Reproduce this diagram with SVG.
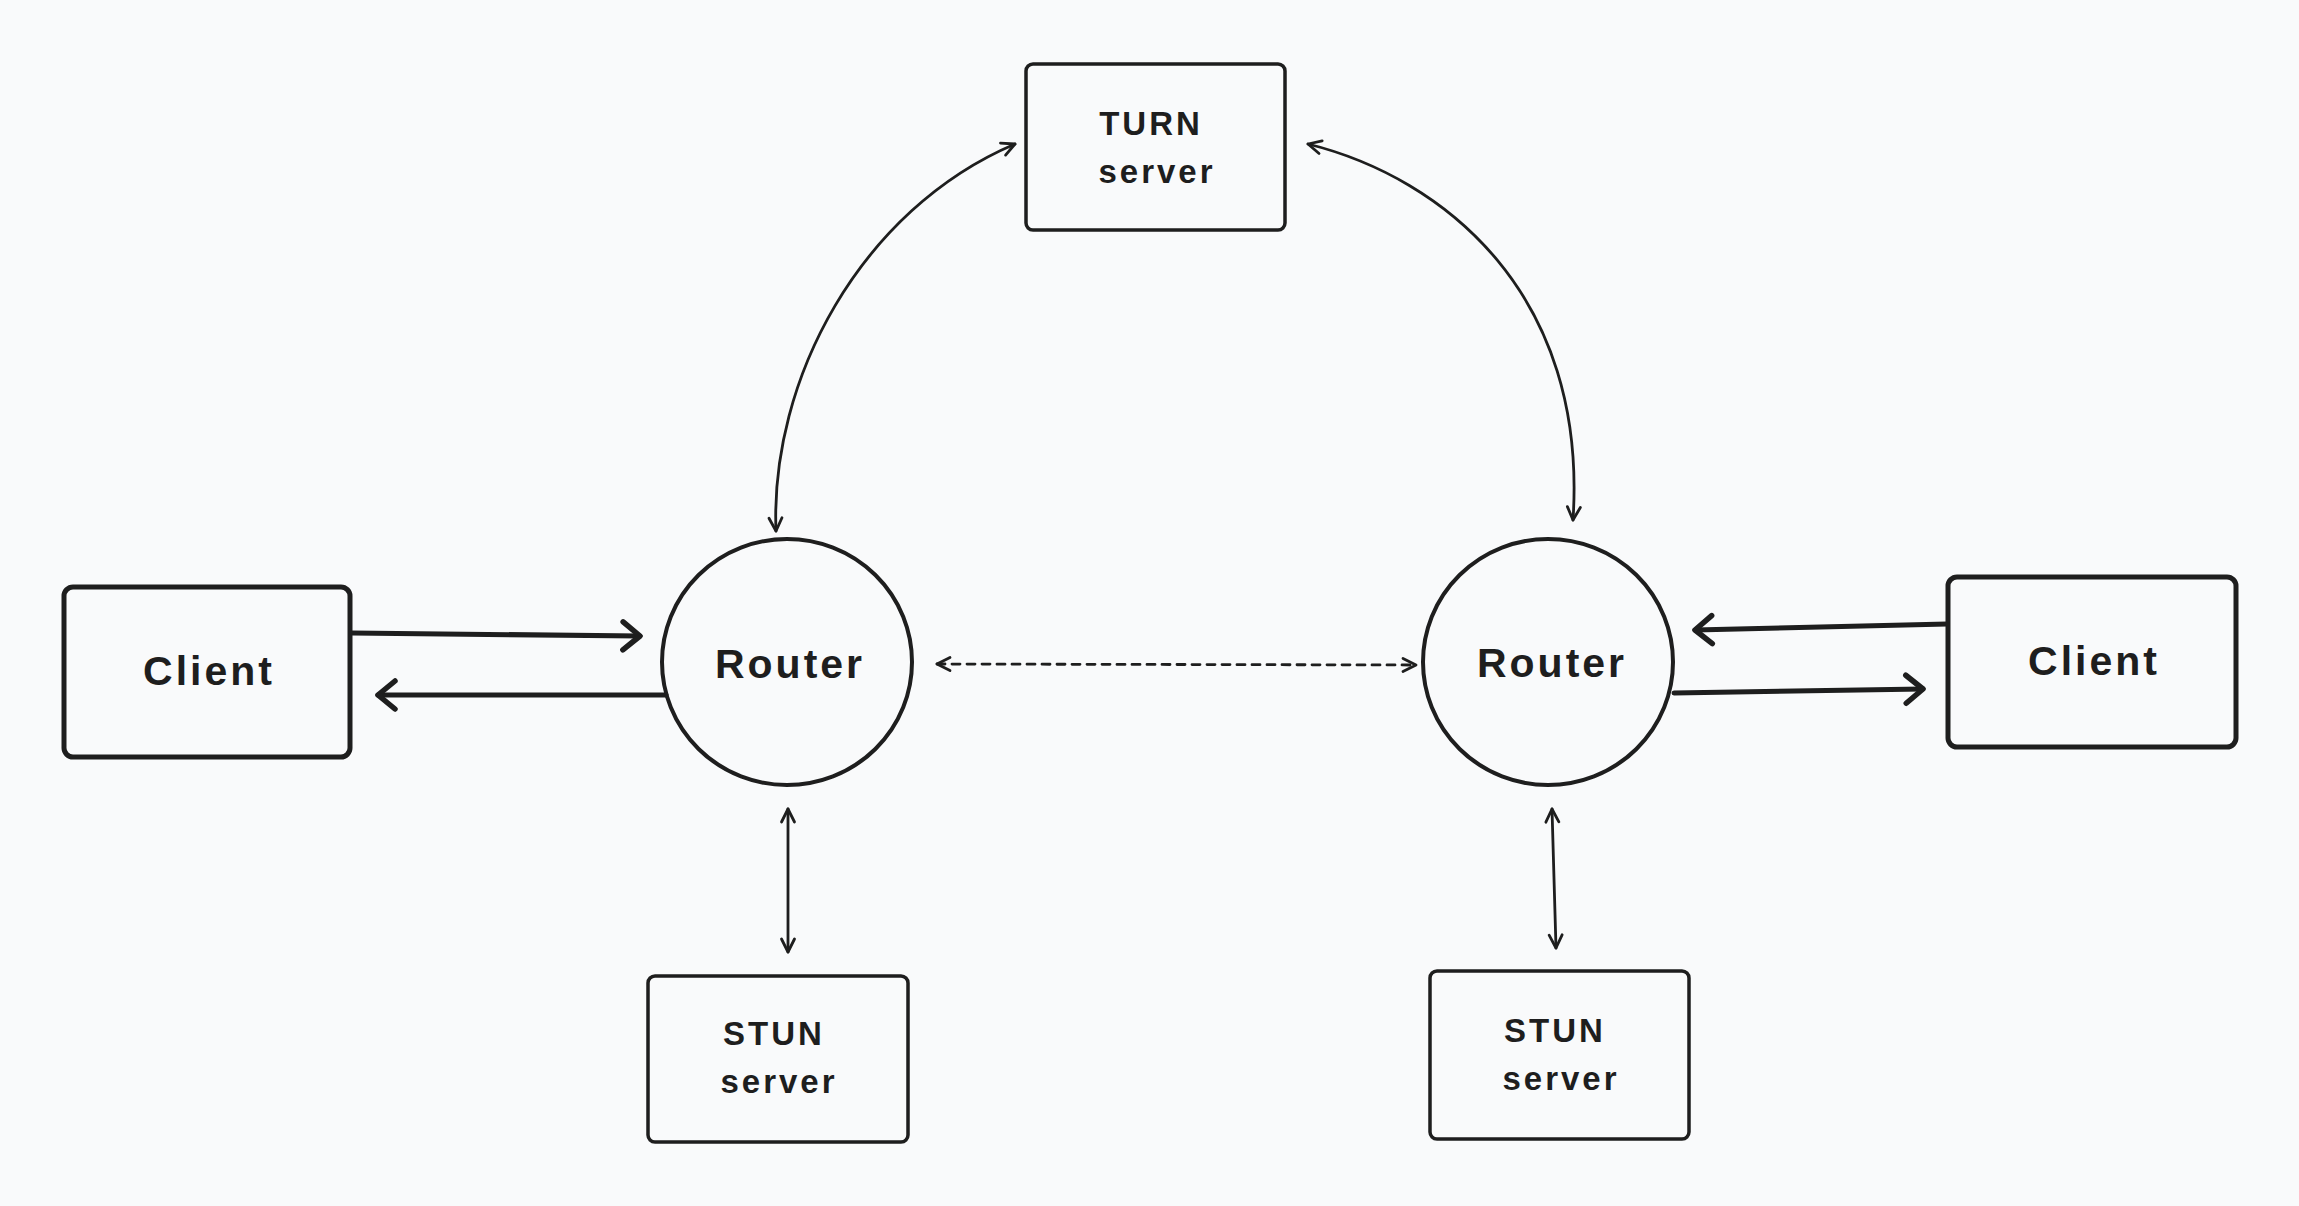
<svg xmlns="http://www.w3.org/2000/svg" width="2299" height="1206" viewBox="0 0 2299 1206">
<style>
.box{fill:none;stroke:#1e1e1e;stroke-linejoin:round}
.client{stroke-width:5}
.srv{stroke-width:3.5}
.router{fill:none;stroke:#1e1e1e;stroke-width:4}
.lbl{font-family:"Liberation Sans","DejaVu Sans",sans-serif;font-weight:bold;fill:#1e1e1e;text-anchor:middle}
.big{font-size:41px;letter-spacing:3px}
.small{font-size:33px;letter-spacing:3px}
.thick{fill:none;stroke:#1e1e1e;stroke-width:5;stroke-linecap:round;marker-end:url(#hb)}
.thin{fill:none;stroke:#1e1e1e;stroke-width:2.8;stroke-linecap:round;marker-start:url(#hs);marker-end:url(#hs)}
.dash{stroke-dasharray:8 7}
</style>
<defs>
<marker id="hb" viewBox="-30 -20 40 40" refX="0" refY="0" markerWidth="40" markerHeight="40" markerUnits="userSpaceOnUse" orient="auto" overflow="visible">
<path d="M -17 -14 L 0 0 L -17 14" fill="none" stroke="#1e1e1e" stroke-width="5.5" stroke-linecap="round" stroke-linejoin="round"/>
</marker>
<marker id="hs" viewBox="-20 -20 40 40" refX="0" refY="0" markerWidth="40" markerHeight="40" markerUnits="userSpaceOnUse" orient="auto-start-reverse" overflow="visible">
<path d="M -13 -6.5 L 0 0 L -13 6.5" fill="none" stroke="#1e1e1e" stroke-width="2.8" stroke-linecap="round" stroke-linejoin="round" stroke-dasharray="none"/>
</marker>
</defs>
<rect x="0" y="0" width="2299" height="1206" fill="#f9fafb"/>

<g id="connectors">
<path class="thick" d="M 352 633 L 640 636"/>
<path class="thick" d="M 666 695 L 378 695"/>
<path class="thick" d="M 1947 624 L 1695 630"/>
<path class="thick" d="M 1674 693 L 1923 689"/>
<path class="thin dash" d="M 937 664 L 1416 665"/>
<path class="thin" d="M 776 531 C 770 380, 860 210, 1015 144"/>
<path class="thin" d="M 1308 144 C 1445 178, 1588 295, 1573 520"/>
<path class="thin" d="M 788 809 L 788 952"/>
<path class="thin" d="M 1552 809 L 1556 948"/>
</g>

<g id="client-left">
<rect class="box client" x="64" y="587" width="286" height="170" rx="9"/>
<text class="lbl big" x="209" y="685">Client</text>
</g>
<g id="router-left">
<ellipse class="router" cx="787" cy="662" rx="125" ry="123"/>
<text class="lbl big" x="790" y="678">Router</text>
</g>
<g id="router-right">
<ellipse class="router" cx="1548" cy="662" rx="125" ry="123"/>
<text class="lbl big" x="1552" y="677">Router</text>
</g>
<g id="client-right">
<rect class="box client" x="1948" y="577" width="288" height="170" rx="9"/>
<text class="lbl big" x="2094" y="675">Client</text>
</g>
<g id="turn-server">
<rect class="box srv" x="1026" y="64" width="259" height="166" rx="7"/>
<text class="lbl small" x="1151" y="135">TURN</text>
<text class="lbl small" x="1157" y="183">server</text>
</g>
<g id="stun-left">
<rect class="box srv" x="648" y="976" width="260" height="166" rx="7"/>
<text class="lbl small" x="774" y="1045">STUN</text>
<text class="lbl small" x="779" y="1093">server</text>
</g>
<g id="stun-right">
<rect class="box srv" x="1430" y="971" width="259" height="168" rx="7"/>
<text class="lbl small" x="1555" y="1042">STUN</text>
<text class="lbl small" x="1561" y="1090">server</text>
</g>
</svg>
